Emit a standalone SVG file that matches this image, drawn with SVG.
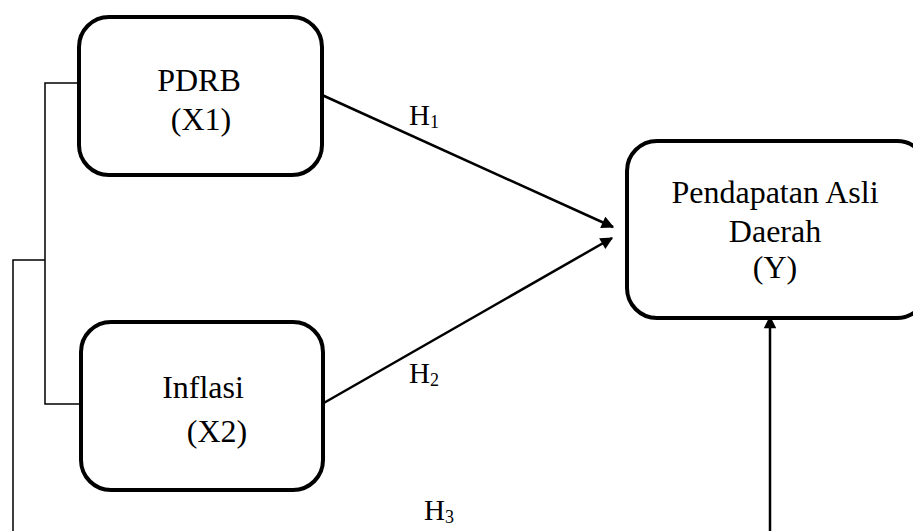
<svg xmlns="http://www.w3.org/2000/svg" width="913" height="531" viewBox="0 0 913 531">
<style>
.box{fill:#fff;stroke:#000;stroke-width:4}
.t{font-family:"Liberation Serif","Times New Roman",serif;font-size:32px;fill:#000}
.h{font-family:"Liberation Serif","Times New Roman",serif;font-size:29px;fill:#000}
.sub{font-size:18px}
.thin{fill:none;stroke:#000;stroke-width:1.5}
.arr{fill:none;stroke:#000;stroke-width:2.5;marker-end:url(#ah)}
</style>
<defs>
<marker id="ah" viewBox="0 0 10 10" refX="9" refY="5" markerWidth="5.5" markerHeight="5" orient="auto" markerUnits="strokeWidth">
<path d="M0,0 L10,5 L0,10 Z" fill="#000"/>
</marker>
</defs>
<g id="connectors">
<polyline class="thin" points="78,83 45,83 45,404 80,404"/>
<polyline class="thin" points="45,260 13,260 13,531"/>
<line class="arr" x1="322" y1="95" x2="613" y2="227"/>
<line class="arr" x1="322" y1="404" x2="612" y2="238"/>
<line class="arr" x1="770" y1="531" x2="770" y2="317"/>
</g>
<g id="node-x1">
<rect class="box" x="79" y="17" width="243" height="158" rx="30"/>
<text class="t" x="199" y="91" text-anchor="middle">PDRB</text>
<text class="t" x="201" y="130" text-anchor="middle">(X1)</text>
</g>
<g id="node-x2">
<rect class="box" x="81" y="322" width="242" height="168" rx="30"/>
<text class="t" x="203" y="398" text-anchor="middle">Inflasi</text>
<text class="t" x="217" y="442" text-anchor="middle">(X2)</text>
</g>
<g id="node-y">
<rect class="box" x="627" y="141" width="300" height="177" rx="30"/>
<text class="t" x="775" y="203" text-anchor="middle">Pendapatan Asli</text>
<text class="t" x="775" y="242" text-anchor="middle">Daerah</text>
<text class="t" x="775" y="278" text-anchor="middle">(Y)</text>
</g>
<g id="labels">
<text class="h" x="409" y="125">H<tspan class="sub" dy="3">1</tspan></text>
<text class="h" x="409" y="383">H<tspan class="sub" dy="3">2</tspan></text>
<text class="h" x="424" y="520">H<tspan class="sub" dy="3">3</tspan></text>
</g>
</svg>
